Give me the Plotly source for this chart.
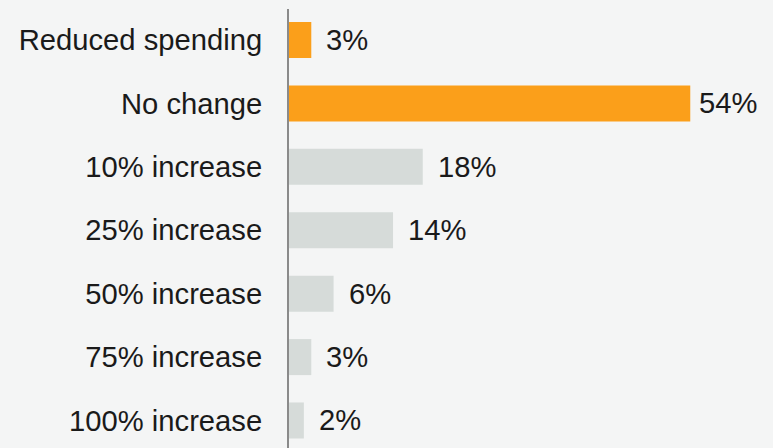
import plotly.graph_objects as go

categories = ["Reduced spending", "No change", "10% increase", "25% increase",
              "50% increase", "75% increase", "100% increase"]
values = [3, 54, 18, 14, 6, 3, 2]
bar_colors = ["#FB9F1A", "#FB9F1A", "#D6DBD9", "#D6DBD9", "#D6DBD9", "#D6DBD9", "#D6DBD9"]
value_labels = ["3%", "54%", "18%", "14%", "6%", "3%", "2%"]

FONT = "Liberation Sans, Arial, sans-serif"
TXT = "#1A1A1A"
FS = 29.2

fig = go.Figure()
fig.add_trace(go.Bar(
    x=values, y=categories, orientation="h",
    marker=dict(color=bar_colors, line=dict(width=0)),
    hoverinfo="skip",
))

vmax = max(values)
for c, v, t in zip(categories, values, value_labels):
    fig.add_annotation(x=v, y=c, text=t, showarrow=False, xanchor="left",
                       xshift=7 if v == vmax else 13, yshift=0,
                       font=dict(family=FONT, size=FS, color=TXT))

fig.update_layout(
    width=773, height=448,
    margin=dict(l=289, r=1, t=9, b=0),
    paper_bgcolor="#F4F5F5", plot_bgcolor="#F4F5F5",
    bargap=0.432, showlegend=False,
    font=dict(family=FONT, size=FS, color=TXT),
)
fig.update_xaxes(range=[0, 65], visible=False, showgrid=False, zeroline=False)
fig.update_yaxes(
    type="category", categoryorder="array", categoryarray=categories,
    range=[6.434, -0.489], autorange=False,
    showgrid=False, zeroline=False,
    showline=True, linecolor="#8A8A8A", linewidth=2,
    ticks="outside", ticklen=0, ticklabelstandoff=19,
    tickfont=dict(family=FONT, size=FS, color=TXT),
)

fig.write_html("out.html", config={"displayModeBar": False},
               post_script="document.body.style.margin='0';document.body.style.background='#F4F5F5';")
